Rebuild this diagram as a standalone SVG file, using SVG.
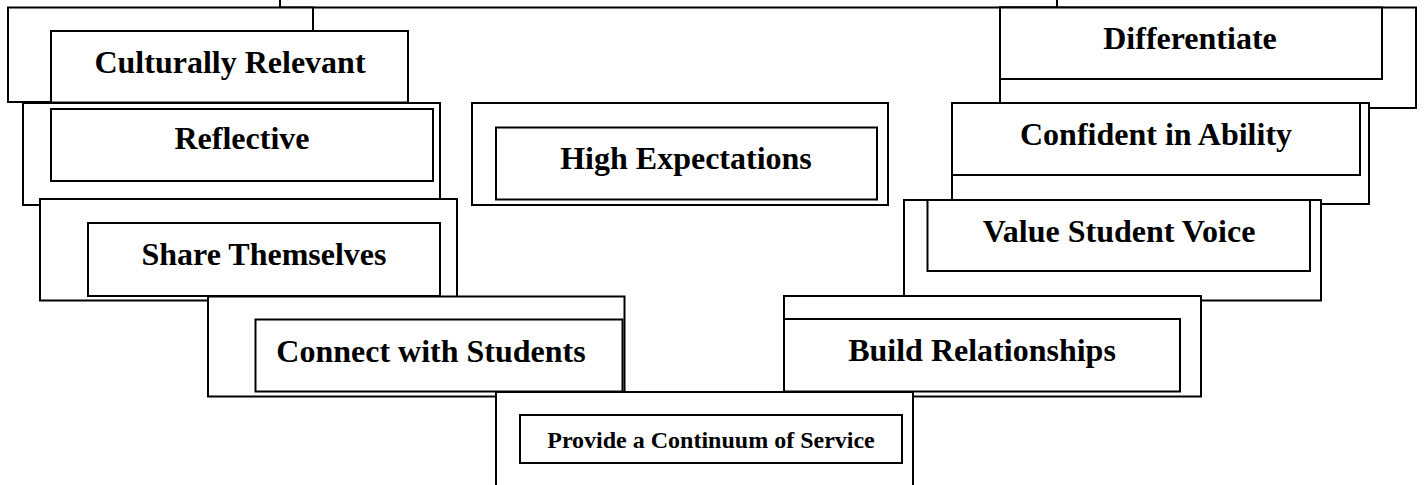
<svg xmlns="http://www.w3.org/2000/svg" width="1424" height="485" viewBox="0 0 1424 485">
<style>
rect{fill:#fff;stroke:#000;stroke-width:2}
text{font-family:"Liberation Serif","Times New Roman",serif;font-weight:bold;font-size:32px;fill:#000;text-anchor:middle}
.sm{font-size:24px}
</style>
<rect x="0" y="0" width="1424" height="485" style="stroke:none"/>
<g id="connectors">
<rect x="280" y="-20" width="777" height="27.5"/>
</g>
<g id="culturally-relevant">
<rect x="8" y="7.5" width="305" height="94.5"/>
<rect x="51" y="31" width="357" height="71.5"/>
<text x="230" y="73">Culturally Relevant</text>
</g>
<g id="differentiate">
<rect x="1000" y="7.5" width="416" height="100.5"/>
<rect x="1000" y="7.5" width="382" height="71.5"/>
<text x="1190" y="49">Differentiate</text>
</g>
<g id="reflective">
<rect x="23" y="103" width="417" height="102"/>
<rect x="51" y="109" width="382" height="72"/>
<text x="242" y="149">Reflective</text>
</g>
<g id="high-expectations">
<rect x="472" y="103" width="416" height="102"/>
<rect x="496" y="127.5" width="381" height="72"/>
<text x="686" y="169">High Expectations</text>
</g>
<g id="confident-in-ability">
<rect x="952" y="103" width="417" height="101"/>
<rect x="952" y="103" width="408" height="72"/>
<text x="1156" y="145">Confident in Ability</text>
</g>
<g id="share-themselves">
<rect x="40" y="199" width="417" height="101.5"/>
<rect x="88" y="223" width="352" height="73"/>
<text x="264" y="265">Share Themselves</text>
</g>
<g id="value-student-voice">
<rect x="904" y="200" width="417" height="100.5"/>
<rect x="927.5" y="200" width="382.5" height="71"/>
<text x="1119" y="242">Value Student Voice</text>
</g>
<g id="connect-with-students">
<rect x="208" y="296.5" width="416.5" height="100"/>
<rect x="255.5" y="319.5" width="367" height="72"/>
<text x="431" y="362">Connect with Students</text>
</g>
<g id="build-relationships">
<rect x="784" y="296" width="417" height="100.5"/>
<rect x="784" y="319" width="396" height="72.5"/>
<text x="982" y="361">Build Relationships</text>
</g>
<g id="provide-continuum">
<rect x="496" y="392" width="417" height="110"/>
<rect x="520" y="415" width="382" height="48"/>
<text class="sm" x="711" y="448">Provide a Continuum of Service</text>
</g>
</svg>
